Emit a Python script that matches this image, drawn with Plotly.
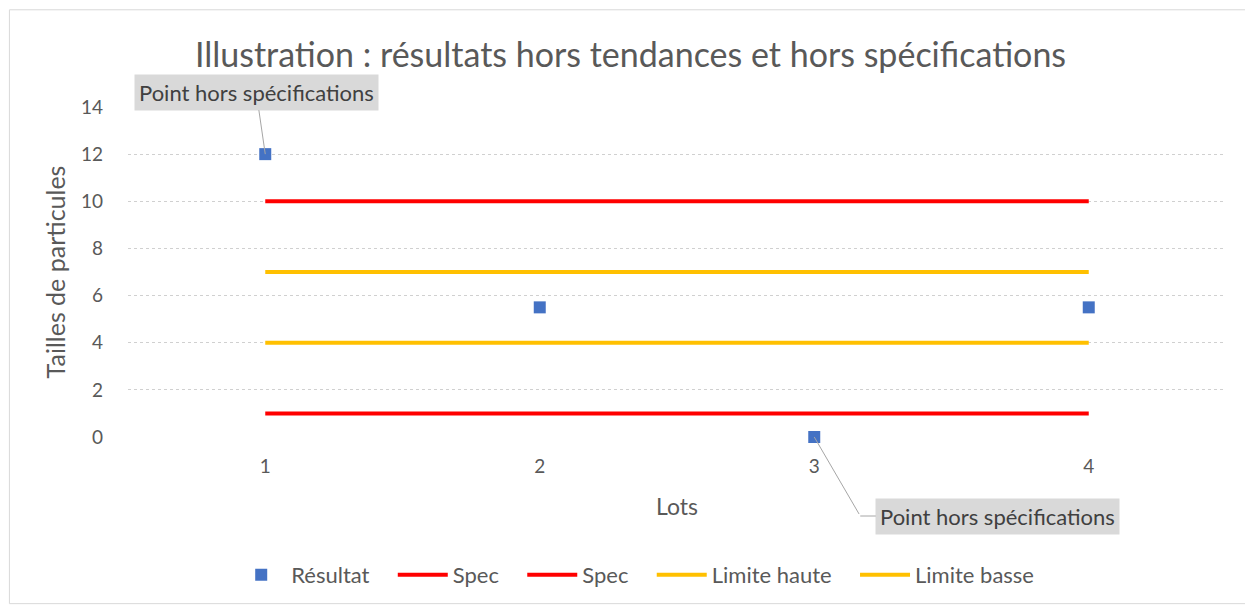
import plotly.graph_objects as go

lots = [1, 2, 3, 4]
resultat = [12, 5.5, 0, 5.5]
spec_haute = [10, 10, 10, 10]
spec_basse = [1, 1, 1, 1]
limite_haute = [7, 7, 7, 7]
limite_basse = [4, 4, 4, 4]
y_ticks = [0, 2, 4, 6, 8, 10, 12, 14]

FONT = "Lato"
GREY = "#595959"
PAD = "\u2002\u2004"  # extra spacing between legend entries

fig = go.Figure()
fig.add_trace(go.Scatter(x=lots, y=resultat, mode="markers", name="Résultat" + PAD,
                         marker=dict(symbol="square", size=12, color="#4472c4"),
                         cliponaxis=False))
fig.add_trace(go.Scatter(x=lots, y=spec_haute, mode="lines", name="Spec" + PAD,
                         line=dict(color="#ff0000", width=4)))
fig.add_trace(go.Scatter(x=lots, y=spec_basse, mode="lines", name="Spec" + PAD,
                         line=dict(color="#ff0000", width=4)))
fig.add_trace(go.Scatter(x=lots, y=limite_haute, mode="lines", name="Limite haute" + PAD,
                         line=dict(color="#ffc000", width=4)))
fig.add_trace(go.Scatter(x=lots, y=limite_basse, mode="lines", name="Limite basse",
                         line=dict(color="#ffc000", width=4)))

ann_font = dict(family=FONT, size=22, color="#404040")
annotations = [
    dict(x=lots[0], y=resultat[0], xref="x", yref="y", text="Point hors spécifications",
         showarrow=True, arrowhead=0, arrowwidth=1, arrowcolor="#a6a6a6",
         ax=-9, ay=-62, bgcolor="#d9d9d9", borderpad=4, font=ann_font),
    dict(x=lots[2], y=resultat[2], xref="x", yref="y", text=" ",
         showarrow=True, arrowhead=0, arrowwidth=1, arrowcolor="#a6a6a6",
         ax=46, ay=79, font=dict(size=1)),
    dict(x=lots[2], y=resultat[2], xref="x", yref="y", text="Point hors spécifications",
         xshift=46, yshift=-79,
         showarrow=True, arrowhead=0, arrowwidth=1, arrowcolor="#a6a6a6",
         ax=137.5, ay=0, bgcolor="#d9d9d9", borderpad=4, font=ann_font),
]

fig.update_layout(
    width=1245, height=599,
    margin=dict(l=120, r=27, t=99, b=169),
    paper_bgcolor="white", plot_bgcolor="white",
    font=dict(family=FONT, color=GREY, size=19),
    title=dict(text="Illustration : résultats hors tendances et hors spécifications",
               x=0.5, xref="container", xanchor="center", y=1 - 47 / 599, yanchor="middle",
               font=dict(family=FONT, size=34, color=GREY)),
    xaxis=dict(range=[0.5, 4.5], tickvals=lots, ticktext=[str(v) for v in lots],
               showgrid=False, zeroline=False, showline=False, ticks="",
               ticklabelstandoff=16,
               title=dict(text="Lots", standoff=22, font=dict(size=23, color=GREY))),
    yaxis=dict(range=[0, 14], tickvals=y_ticks, showgrid=True, gridcolor="#d0d0d0",
               griddash="dot", gridwidth=1, zeroline=False, showline=False, ticks="",
               ticklabelstandoff=24,
               title=dict(text="Tailles de particules", standoff=8, font=dict(size=25, color=GREY))),
    legend=dict(orientation="h", x=0.094, xanchor="left", y=-0.414, yanchor="middle",
                font=dict(size=22, color=GREY), itemwidth=50),
    showlegend=True,
    annotations=annotations,
    shapes=[dict(type="rect", xref="paper", yref="paper",
                 x0=-0.108, x1=1.0225, y0=-0.505, y1=1.2946,
                 line=dict(color="#d9d9d9", width=1), fillcolor="rgba(0,0,0,0)", layer="below")],
)

fig.write_html("out.html")
